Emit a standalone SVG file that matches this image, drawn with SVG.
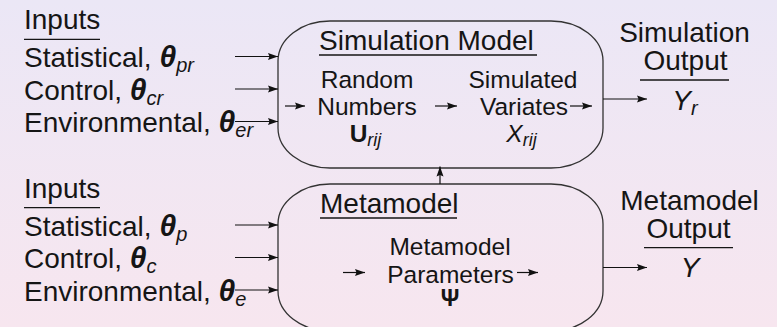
<svg xmlns="http://www.w3.org/2000/svg" width="777" height="327" viewBox="0 0 777 327">
<defs>
<linearGradient id="bg" x1="0" y1="0" x2="0" y2="1">
<stop offset="0" stop-color="#ebe7f6"/>
<stop offset="1" stop-color="#f7e6ef"/>
</linearGradient>
<marker id="ah" markerWidth="12" markerHeight="10" refX="10" refY="4" orient="auto" markerUnits="userSpaceOnUse">
<path d="M0,0.5 L10,4 L0,7.5 L1.5,4 Z" fill="#111"/>
</marker>
<style>
text{font-family:"Liberation Sans",Arial,sans-serif;fill:#151515}
.big{font-size:28px}
.mid{font-size:24.5px}
.c{text-anchor:middle}
.th{font-weight:bold;font-style:italic;font-size:30px}
.sub{font-style:italic;font-size:20px}
.subs{font-style:italic;font-size:18px}
.box{fill:none;stroke:#333;stroke-width:1.3}
.ul{stroke:#151515;stroke-width:1.3}
.arr{stroke:#111;stroke-width:1.2;fill:none;marker-end:url(#ah)}
</style>
</defs>
<rect width="777" height="327" fill="url(#bg)"/>

<g id="inputs-sim">
<text class="big" x="24" y="29">Inputs</text>
<line class="ul" x1="24" y1="39.3" x2="100" y2="39.3"/>
<text class="big" x="24" y="67">Statistical, <tspan class="th">θ</tspan><tspan class="sub" dy="5">pr</tspan></text>
<text class="big" x="24" y="99.5">Control, <tspan class="th">θ</tspan><tspan class="sub" dy="5">cr</tspan></text>
<text class="big" x="24" y="132">Environmental, <tspan class="th">θ</tspan><tspan class="sub" dy="5">er</tspan></text>
</g>

<g id="sim-model">
<path class="box" d="M330,21 H551 A52 40 0 0 1 603,61 V128 A52 40 0 0 1 551,168 H330 A52 40 0 0 1 278,128 V61 A52 40 0 0 1 330,21 Z"/>
<text class="big" x="319" y="50">Simulation Model</text>
<line class="ul" x1="319" y1="55" x2="537" y2="55"/>
<text class="mid c" x="367" y="88">Random</text>
<text class="mid c" x="367" y="115">Numbers</text>
<text class="mid c" x="365.5" y="142"><tspan font-weight="bold">U</tspan><tspan class="subs" dy="4">rij</tspan></text>
<text class="mid c" x="523" y="88">Simulated</text>
<text class="mid c" x="524" y="115">Variates</text>
<text class="mid c" x="521.5" y="142"><tspan font-style="italic">X</tspan><tspan class="subs" dy="4">rij</tspan></text>
</g>

<g id="sim-output">
<text class="big c" x="684.5" y="42">Simulation</text>
<text class="big c" x="685.5" y="70">Output</text>
<line class="ul" x1="640" y1="80" x2="729" y2="80"/>
<text class="big c" x="685" y="110"><tspan font-style="italic">Y</tspan><tspan class="sub" dy="5">r</tspan></text>
</g>

<g id="inputs-meta">
<text class="big" x="24" y="197.5">Inputs</text>
<line class="ul" x1="24" y1="207.7" x2="100" y2="207.7"/>
<text class="big" x="24" y="235.5">Statistical, <tspan class="th">θ</tspan><tspan class="sub" dy="5">p</tspan></text>
<text class="big" x="24" y="268">Control, <tspan class="th">θ</tspan><tspan class="sub" dy="5">c</tspan></text>
<text class="big" x="24" y="300.5">Environmental, <tspan class="th">θ</tspan><tspan class="sub" dy="5">e</tspan></text>
</g>

<g id="metamodel">
<path class="box" d="M330,184 H551 A52 40 0 0 1 603,224 V291 A52 40 0 0 1 551,331 H330 A52 40 0 0 1 278,291 V224 A52 40 0 0 1 330,184 Z"/>
<text class="big" x="320" y="213">Metamodel</text>
<line class="ul" x1="320" y1="218" x2="457" y2="218"/>
<text class="mid c" x="450" y="255">Metamodel</text>
<text class="mid c" x="450.5" y="282.5">Parameters</text>
<text class="c" x="450" y="306" font-size="23" font-weight="bold">Ψ</text>
</g>

<g id="meta-output">
<text class="big c" x="689.5" y="209.5">Metamodel</text>
<text class="big c" x="688.5" y="237.5">Output</text>
<line class="ul" x1="644" y1="247.7" x2="733" y2="247.7"/>
<text class="big c" x="690" y="277" font-style="italic">Y</text>
</g>

<g id="connectors">
<line class="arr" x1="235" y1="56.5" x2="278" y2="56.5"/>
<line class="arr" x1="235" y1="89" x2="278" y2="89"/>
<line class="arr" x1="235" y1="121.5" x2="278" y2="121.5"/>
<line class="arr" x1="285" y1="106" x2="305" y2="106"/>
<line class="arr" x1="435" y1="106" x2="457" y2="106"/>
<line class="arr" x1="570" y1="106" x2="592" y2="106"/>
<line class="arr" x1="603" y1="99" x2="647" y2="99"/>
<line class="arr" x1="235" y1="225" x2="278" y2="225"/>
<line class="arr" x1="235" y1="257.5" x2="278" y2="257.5"/>
<line class="arr" x1="235" y1="290" x2="278" y2="290"/>
<line class="arr" x1="343" y1="272.5" x2="365" y2="272.5"/>
<line class="arr" x1="517" y1="272.5" x2="538" y2="272.5"/>
<line class="arr" x1="603" y1="267.5" x2="647" y2="267.5"/>
<line class="arr" x1="440" y1="184" x2="440" y2="166.5"/>
</g>
</svg>
